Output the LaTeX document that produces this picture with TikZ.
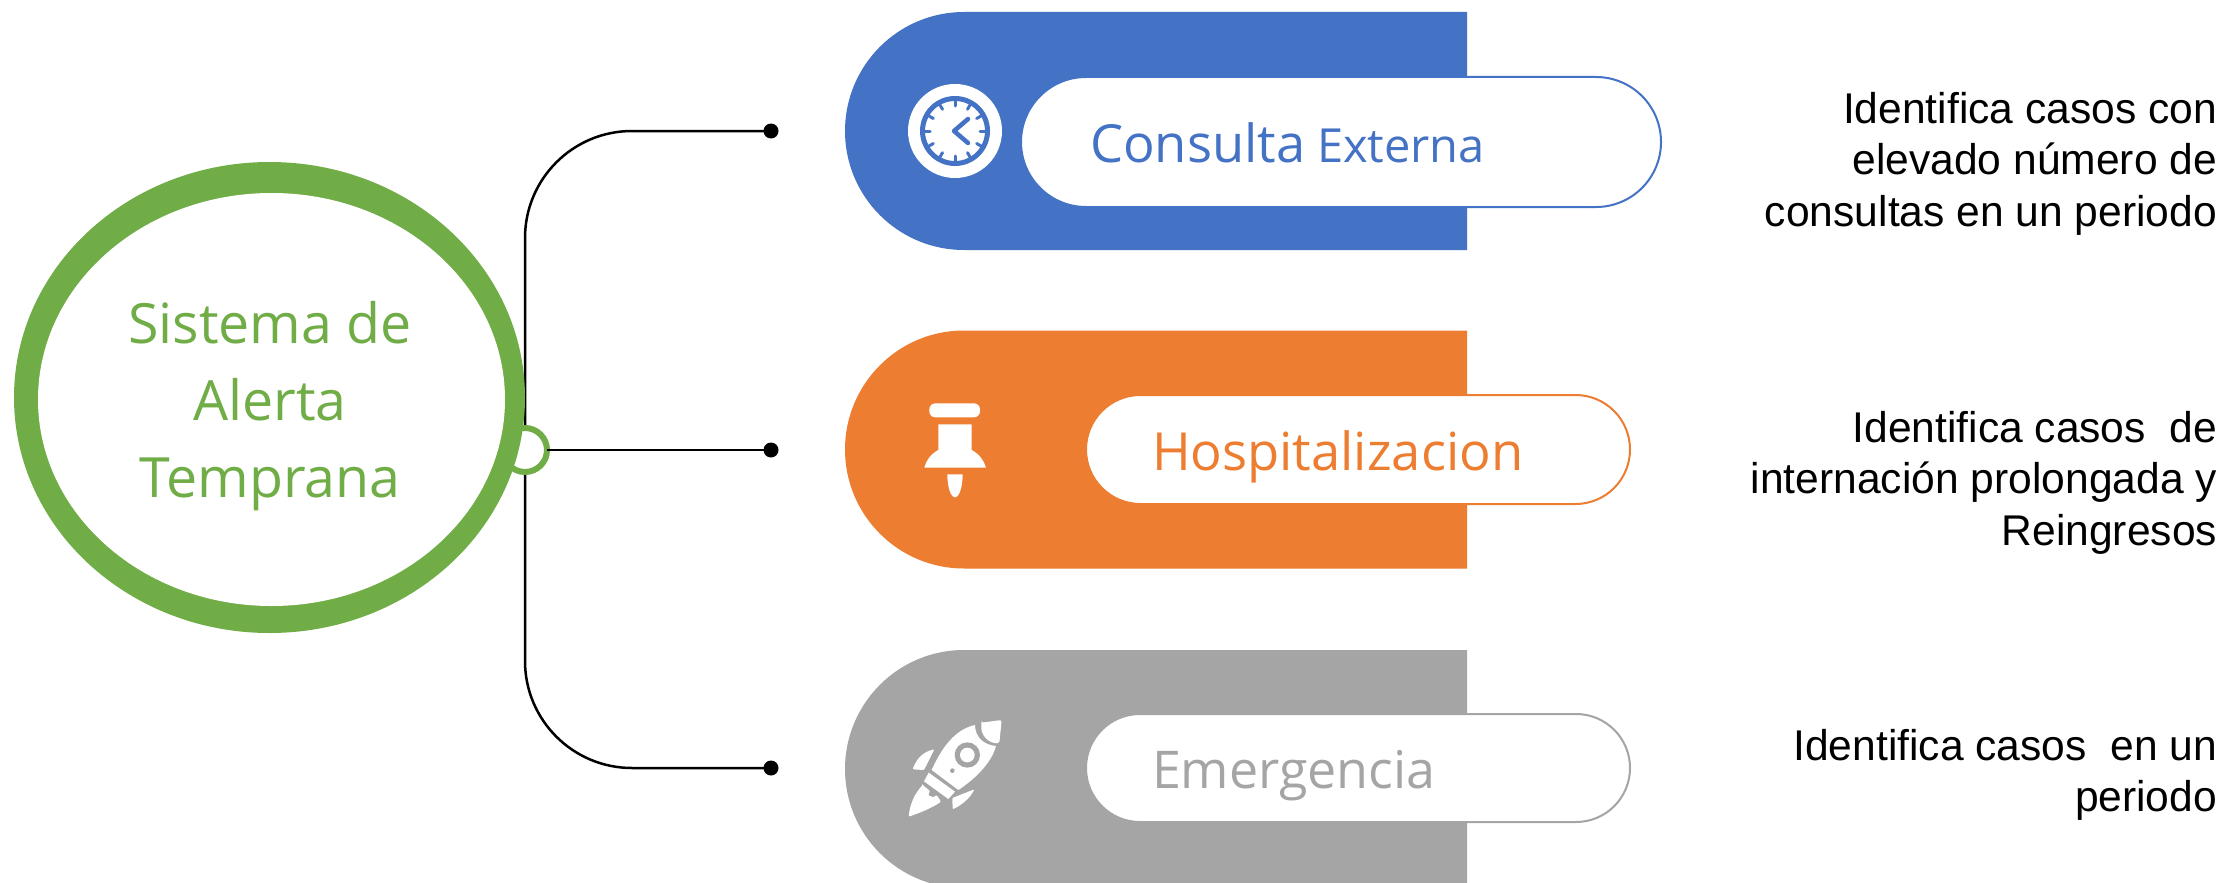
\documentclass[tikz,border=0pt]{standalone}
\usepackage{fontspec}
\usepackage{tikz}
\usetikzlibrary{shapes,shapes.geometric,positioning}
\newfontfamily\labelfont{Open Sans}
\newfontfamily\descfont[FakeStretch=0.99]{Liberation Sans}
\definecolor{cblue}{HTML}{4472C4}
\definecolor{corange}{HTML}{ED7D31}
\definecolor{cgray}{HTML}{A5A5A5}
\definecolor{cgreen}{HTML}{70AD47}
\tikzstyle{every node}=[inner sep=0,outer sep=0]
\tikzstyle{band}=[rounded rectangle,rounded rectangle right arc=none,minimum width=622,minimum height=238]
\tikzstyle{pill}=[rounded rectangle,fill=white,line width=2]
\tikzstyle{wire}=[draw=black,line width=2.5]
\tikzstyle{dot}=[circle,fill=black,minimum size=15]
\tikzstyle{desc}=[anchor=north east,align=right,font=\descfont\fontsize{43}{51.5}\selectfont]
\tikzstyle{tag}=[anchor=base west]

\begin{document}
\begin{tikzpicture}[x=1pt,y=-1pt]
  \clip (0,0) rectangle (2225,883);
  \fill[white] (0,0) rectangle (2225,883);
  % connectors
  \node[dot] (dotconsulta) at (771,131) {};
  \node[dot] (dothospital) at (771,450) {};
  \node[dot] (dotemergencia) at (771,768) {};
  \coordinate (spine) at (525,450);
  \draw[wire,rounded corners=107] (dotconsulta.center) -| (spine);
  \draw[wire,rounded corners=107] (dotemergencia.center) -| (spine);
  \node[circle,draw=cgreen,fill=white,line width=6,minimum size=44] (hubring) at (525,450) {};
  \draw[wire] (hubring.east) -- (dothospital.center);
  % main circle
  \node[ellipse,fill=cgreen,minimum width=511,minimum height=471] (hub) at (269.5,397.5) {};
  \node[ellipse,fill=white,minimum width=467,minimum height=413] (hubinner) at (271.5,399.5) {};
  \node[text=cgreen,align=center,font=\labelfont\fontsize{55.5}{77}\selectfont] (hublabel) at (270,406) {Sistema de\\Alerta\\Temprana};
  % bands
  \node[band,fill=cblue] (bandconsulta) at (1156,131) {};
  \node[band,fill=corange] (bandhospital) at (1156,449.5) {};
  \node[band,fill=cgray] (bandemergencia) at (1156,769) {};
  \node[pill,draw=cblue,minimum width=640,minimum height=130] (pillconsulta) at (1341,142) {};
  \node[pill,draw=corange,minimum width=544,minimum height=109] (pillhospital) at (1358,449.5) {};
  \node[pill,draw=cgray,minimum width=544,minimum height=108] (pillemergencia) at (1358,768) {};
  \node[tag,text=cblue,font=\labelfont\fontsize{52.5}{60}\selectfont] (tagconsulta) at (1090,162) {Consulta};
  \node[tag,text=cblue,font=\labelfont\fontsize{47}{60}\selectfont] (tagexterna) at (1317,162) {Externa};
  \node[tag,text=corange,font=\labelfont\fontsize{52.5}{60}\selectfont] (taghospital) at (1152,470) {Hospitalizacion};
  \node[tag,text=cgray,font=\labelfont\fontsize{52}{60}\selectfont] (tagemergencia) at (1152,788) {Emergencia};
  % descriptions
  \node[desc] (descconsulta) at (2217,92) {Identifica casos con\\elevado número de\\consultas en un periodo};
  \node[desc] (deschospital) at (2217,411) {Identifica casos\ \ de\\internación prolongada y\\Reingresos};
  \node[desc] (descemergencia) at (2217,729) {Identifica casos\ \ en un\\periodo};
  % clock
  \node[circle,fill=white,minimum size=94] (clock) at (955,131) {};
  \node[circle,draw=cblue,line width=5,minimum size=65] (clockface) at (955,131) {};
  \foreach \a in {0,30,...,330}
    \draw[cblue,line width=3,line cap=round] ([shift={(\a:30)}]clock.center) -- ([shift={(\a:25)}]clock.center);
  \draw[cblue,line width=4.5,line cap=round,line join=round] (968,119) -- (954,131) -- (968,143);
  % pin
  \begin{scope}[shift={(890,390)},x=0.3333pt,y=-0.3333pt]
    \fill[white,rounded corners=6] (118,40) rectangle (270,82);
    \fill[white] (145,103) -- (245,103) -- (245,180) .. controls (268,192) and (282,212) .. (288,233)
      -- (103,233) .. controls (108,212) and (122,192) .. (145,180) -- cycle;
    \fill[white] (172,253) -- (218,253) .. controls (218,290) and (208,322) .. (195,322)
      .. controls (182,322) and (172,290) .. (172,253) -- cycle;
  \end{scope}
  % rocket
  \begin{scope}[shift={(890,710)},x=0.3333pt,y=-0.3333pt]
    \fill[white,rounded corners=2] (275,38) -- (335,30) -- (328,100) .. controls (295,100) and (270,75) .. (275,38) -- cycle;
    \fill[white] (255,45) .. controls (210,55) and (165,90) .. (125,180) -- (205,240)
      .. controls (280,190) and (310,140) .. (318,108) .. controls (280,105) and (255,80) .. (255,45) -- cycle;
    \fill[cgray] (232,135) circle[radius=38];
    \fill[white] (232,135) circle[radius=22];
    \fill[cgray] (187,182) circle[radius=7];
    \fill[white] (116,188) -- (195,245) -- (175,267) -- (102,214) -- cycle;
    \fill[white,rounded corners=1] (98,225) -- (120,243) -- (114,255) -- (130,262) -- (140,255) -- (153,275)
      .. controls (125,295) and (85,310) .. (56,320) .. controls (60,280) and (75,250) .. (98,225) -- cycle;
    \fill[white,rounded corners=1] (133,118) .. controls (100,125) and (80,145) .. (68,178) -- (102,180) -- cycle;
    \fill[white,rounded corners=1] (253,238) .. controls (240,265) and (215,285) .. (188,298) -- (187,264) -- cycle;
  \end{scope}
\end{tikzpicture}
\end{document}
